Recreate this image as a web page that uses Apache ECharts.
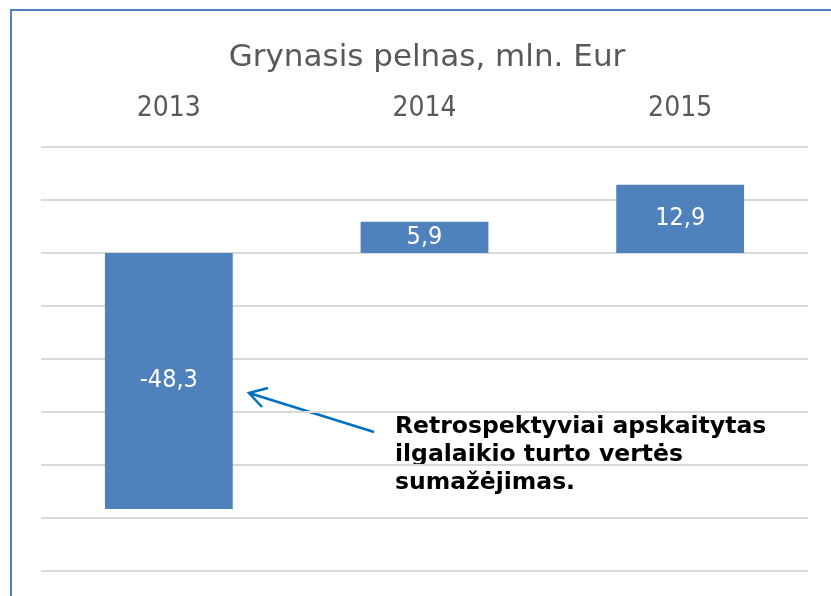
<!DOCTYPE html>
<html>
<head>
<meta charset="utf-8">
<script src="https://cdn.jsdelivr.net/npm/echarts@6/dist/echarts.min.js"></script>
<style>
  html, body { margin: 0; padding: 0; background: #fff; }
  #chart { width: 831px; height: 596px; }
</style>
</head>
<body>
<div id="chart"></div>
<script>
// 数据
var years = ["2013", "2014", "2015"];
var profit = [-48.3, 5.9, 12.9];
var yMin = -60;
var yMax = 20;
var yStep = 10;

var myChart = echarts.init(document.getElementById("chart"));
var condFont = "'DejaVu Sans Condensed', 'DejaVu Sans', sans-serif";
var wideFont = "'DejaVu Sans', sans-serif";

myChart.setOption({
  animation: false,
  title: {
    text: "Grynasis pelnas, mln. Eur",
    left: 422,
    textAlign: "center",
    top: 37,
    textStyle: {
      color: "#595959",
      fontFamily: wideFont,
      fontWeight: "normal",
      fontSize: 31,
    },
  },
  grid: {
    left: 41,
    right: 23,
    top: 147,
    bottom: 25,
  },
  xAxis: {
    type: "category",
    position: "top",
    data: years,
    axisLine: { show: false },
    axisTick: { show: false },
    axisLabel: {
      margin: 24,
      color: "#595959",
      fontFamily: condFont,
      fontSize: 28,
    },
  },
  yAxis: {
    type: "value",
    min: yMin,
    max: yMax,
    interval: yStep,
    axisLabel: { show: false },
    axisLine: { show: false },
    axisTick: { show: false },
    splitLine: {
      show: true,
      lineStyle: { color: "#d9d9d9", width: 2 },
    },
  },
  series: [
    {
      type: "bar",
      data: profit,
      barWidth: "50%",
      itemStyle: { color: "#4f81bd" },
      label: {
        show: true,
        position: "inside",
        color: "#fff",
        fontFamily: condFont,
        fontSize: 25,
        formatter: function (p) {
          return String(p.value).replace(".", ",");
        },
      },
    },
  ],
  graphic: [
    // 边框
    {
      type: "line",
      shape: { x1: 11, y1: 10, x2: 11, y2: 596 },
      style: { stroke: "#4f81bd", lineWidth: 2 },
    },
    {
      type: "line",
      shape: { x1: 10, y1: 10, x2: 831, y2: 10 },
      style: { stroke: "#4f81bd", lineWidth: 2 },
    },
    // 箭头
    {
      type: "line",
      shape: { x1: 374, y1: 432, x2: 249, y2: 393 },
      style: { stroke: "#0070c0", lineWidth: 2.5 },
    },
    {
      type: "polyline",
      shape: { points: [[268, 388], [249, 393], [262, 407]] },
      style: { stroke: "#0070c0", lineWidth: 2.5, fill: null },
    },
    {
      type: "text",
      left: 395,
      top: 413,
      style: {
        text: "Retrospektyviai apskaitytas\nilgalaikio turto vertės\nsumažėjimas.",
        fill: "#000",
        font: "bold 23.5px " + wideFont,
        lineHeight: 28,
      },
    },
  ],
});
</script>
</body>
</html>
